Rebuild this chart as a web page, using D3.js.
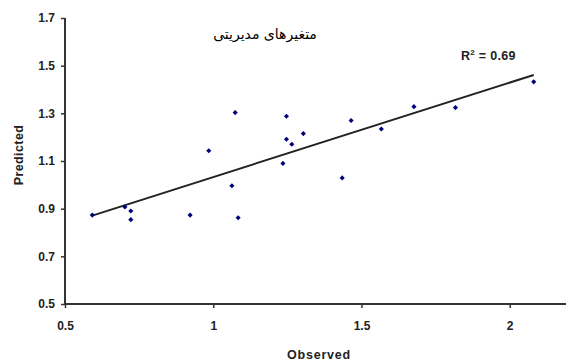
<!DOCTYPE html>
<html>
<head>
<meta charset="utf-8">
<script src="https://cdn.jsdelivr.net/npm/d3@7"></script>
<style>
  body { margin: 0; background: #fff; }
  svg text { font-family: Arial, "Liberation Sans", sans-serif; }
</style>
</head>
<body>
<script>
// data
const observed = [0.592, 0.702, 0.722, 0.722, 0.922, 0.985, 1.074, 1.063, 1.084, 1.247,
                  1.247, 1.265, 1.304, 1.235, 1.465, 1.435, 1.567, 1.677, 1.817, 2.081]
const predicted = [0.873, 0.907, 0.890, 0.854, 0.873, 1.143, 1.303, 0.996, 0.862, 1.288,
                   1.191, 1.170, 1.215, 1.090, 1.270, 1.029, 1.234, 1.328, 1.324, 1.432]
const trendX = [0.592, 2.081]
const trendY = [0.871, 1.461]
const xTicks = [0.5, 1, 1.5, 2]
const yTicks = [0.5, 0.7, 0.9, 1.1, 1.3, 1.5, 1.7]
const titleText = "متغیرهای مدیریتی"
const r2Value = "0.69"

const W = 566, H = 362

const svg = d3.select("body").append("svg")
    .attr("width", W)
    .attr("height", H)

const x = d3.scaleLinear().domain([0.5, 2.2]).range([65, 569])
const y = d3.scaleLinear().domain([0.5, 1.7]).range([304, 18])

// axes
const yAxis = svg.append("g")
    .attr("transform", "translate(65,0)")
    .call(d3.axisLeft(y).tickValues(yTicks).tickSize(4).tickPadding(6).tickFormat(d3.format(".1f")))
const xAxis = svg.append("g")
    .attr("transform", "translate(0,304)")
    .call(d3.axisBottom(x).tickValues(xTicks).tickSize(4).tickPadding(13).tickFormat(d => d))

for (const ax of [xAxis, yAxis]) {
    ax.select(".domain").attr("stroke", "#333").attr("stroke-width", 2)
    ax.selectAll(".tick line").attr("stroke", "#333").attr("stroke-width", 1.5)
    ax.selectAll(".tick text")
        .attr("fill", "#222")
        .attr("font-size", "12px")
        .attr("font-weight", "bold")
}
xAxis.select(".domain").attr("d", "M65,0H566")
yAxis.select(".domain").attr("d", "M0,18V304")

// trend line
svg.append("line")
    .attr("x1", x(trendX[0])).attr("y1", y(trendY[0]))
    .attr("x2", x(trendX[1])).attr("y2", y(trendY[1]))
    .attr("stroke", "#222")
    .attr("stroke-width", 2)

// points
svg.append("g").selectAll("path")
    .data(observed.map((v, i) => [v, predicted[i]]))
    .join("path")
        .attr("d", d3.symbol(d3.symbolSquare, 13))
        .attr("transform", d => `translate(${x(d[0])},${y(d[1])}) rotate(45)`)
        .attr("fill", "#00007a")

// labels
svg.append("text")
    .attr("x", 265).attr("y", 39)
    .attr("text-anchor", "middle")
    .attr("direction", "rtl")
    .attr("font-size", "14px")
    .style("font-family", "'DejaVu Sans', sans-serif")
    .attr("fill", "#000")
    .text(titleText)

const r2 = svg.append("text")
    .attr("x", 461).attr("y", 60)
    .attr("font-size", "12.5px")
    .attr("font-weight", "bold")
    .attr("letter-spacing", "0.3px")
    .attr("fill", "#222")
r2.append("tspan").text("R")
r2.append("tspan").attr("dy", -5).attr("font-size", "8px").text("2")
r2.append("tspan").attr("dy", 5).text(" = " + r2Value)

svg.append("text")
    .attr("x", 319).attr("y", 359)
    .attr("text-anchor", "middle")
    .attr("font-size", "12.5px")
    .attr("font-weight", "bold")
    .attr("letter-spacing", "0.8px")
    .attr("fill", "#222")
    .text("Observed")

svg.append("text")
    .attr("transform", "translate(23,155) rotate(-90)")
    .attr("text-anchor", "middle")
    .attr("font-size", "12.5px")
    .attr("font-weight", "bold")
    .attr("letter-spacing", "0.4px")
    .attr("fill", "#222")
    .text("Predicted")
</script>
</body>
</html>
